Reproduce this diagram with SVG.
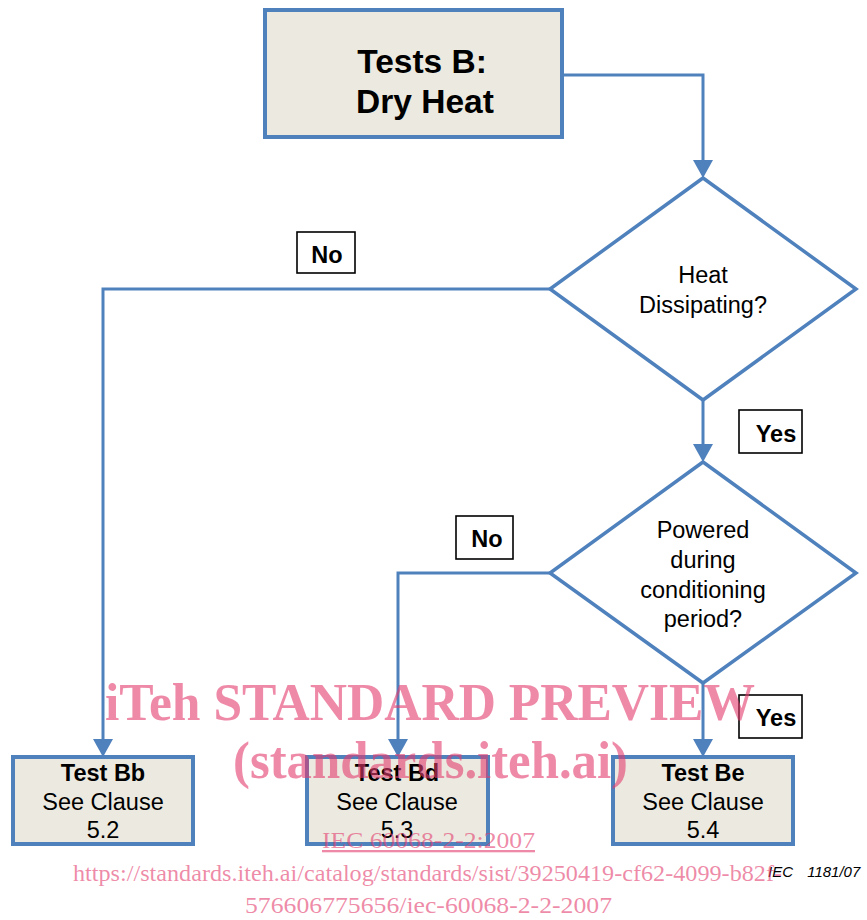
<svg xmlns="http://www.w3.org/2000/svg" width="867" height="920" viewBox="0 0 867 920">
  <style>
    .box { fill: #ECEAE0; stroke: #4F81BD; stroke-width: 4; }
    .dia { fill: #FFFFFF; stroke: #4F81BD; stroke-width: 3.5; stroke-linejoin: miter; }
    .lbl { fill: #FFFFFF; stroke: #000000; stroke-width: 1.6; }
    .wire { fill: none; stroke: #4F81BD; stroke-width: 3; marker-end: url(#arrow); }
    .t { font-family: "Liberation Sans", Arial, sans-serif; fill: #000000; text-anchor: middle; }
    .title { font-size: 33.5px; font-weight: bold; }
    .body { font-size: 23.5px; }
    .bold { font-weight: bold; }
    .wm { font-family: "Liberation Serif", "Times New Roman", serif; fill: #E33C6E; fill-opacity: 0.6; }
  </style>
  <defs>
    <marker id="arrow" viewBox="0 0 18 20" markerWidth="18" markerHeight="20" refX="8" refY="10" orient="auto" markerUnits="userSpaceOnUse">
      <path d="M0,0 L18,10 L0,20 z" fill="#4F81BD"/>
    </marker>
  </defs>

  <rect width="867" height="920" fill="#FFFFFF"/>

  <!-- connectors -->
  <g id="connectors">
    <path class="wire" d="M562,75 H703 V168"/>
    <path class="wire" d="M550,289 H103 V747"/>
    <path class="wire" d="M703,400 V452"/>
    <path class="wire" d="M550,573 H398 V747"/>
    <path class="wire" d="M703,683 V747"/>
  </g>

  <!-- start node -->
  <g id="start">
    <rect class="box" x="265" y="10" width="297" height="127"/>
    <text class="t title" x="422" y="73">Tests B:</text>
    <text class="t title" x="425" y="113">Dry Heat</text>
  </g>

  <!-- decision: heat dissipating -->
  <g id="decision-heat">
    <polygon class="dia" points="703,178 856,289 703,400 550,289"/>
    <text class="t body" x="703" y="283">Heat</text>
    <text class="t body" x="703" y="313">Dissipating?</text>
  </g>

  <!-- decision: powered -->
  <g id="decision-powered">
    <polygon class="dia" points="703,462 856,573 703,683 550,573"/>
    <text class="t body" x="703" y="538">Powered</text>
    <text class="t body" x="703" y="568">during</text>
    <text class="t body" x="703" y="598">conditioning</text>
    <text class="t body" x="703" y="627">period?</text>
  </g>

  <!-- branch labels -->
  <g id="label-no-1">
    <rect class="lbl" x="297" y="232" width="58" height="41"/>
    <text class="t body bold" x="327" y="263">No</text>
  </g>
  <g id="label-yes-1">
    <rect class="lbl" x="739" y="410" width="63" height="43"/>
    <text class="t body bold" x="776" y="442">Yes</text>
  </g>
  <g id="label-no-2">
    <rect class="lbl" x="456" y="516" width="57" height="43"/>
    <text class="t body bold" x="487" y="547">No</text>
  </g>
  <g id="label-yes-2">
    <rect class="lbl" x="739" y="695" width="63" height="43"/>
    <text class="t body bold" x="776" y="726">Yes</text>
  </g>

  <!-- outcome boxes -->
  <g id="test-bb">
    <rect class="box" x="13" y="757" width="180" height="87"/>
    <text class="t body bold" x="103" y="781">Test Bb</text>
    <text class="t body" x="103" y="810">See Clause</text>
    <text class="t body" x="103" y="838">5.2</text>
  </g>
  <g id="test-bd">
    <rect class="box" x="307" y="757" width="181" height="87"/>
    <text class="t body bold" x="397" y="781">Test Bd</text>
    <text class="t body" x="397" y="810">See Clause</text>
    <text class="t body" x="397" y="838">5.3</text>
  </g>
  <g id="test-be">
    <rect class="box" x="613" y="757" width="180" height="87"/>
    <text class="t body bold" x="703" y="781">Test Be</text>
    <text class="t body" x="703" y="810">See Clause</text>
    <text class="t body" x="703" y="838">5.4</text>
  </g>

  <!-- figure number -->
  <text x="768" y="877" font-family="'Liberation Sans', Arial, sans-serif" font-size="15" font-style="italic" fill="#000000">IEC <tspan dx="10">1181/07</tspan></text>

  <!-- overlay stamp -->
  <g id="stamp">
    <text class="wm" x="105" y="720" font-size="52" font-weight="bold" textLength="650" lengthAdjust="spacingAndGlyphs">iTeh STANDARD PREVIEW</text>
    <text class="wm" x="233" y="778" font-size="52" font-weight="bold" textLength="395" lengthAdjust="spacingAndGlyphs">(standards.iteh.ai)</text>
    <text class="wm" x="322" y="848" font-size="23" text-decoration="underline" textLength="213" lengthAdjust="spacingAndGlyphs">IEC 60068-2-2:2007</text>
    <text class="wm" x="73" y="881" font-size="24" textLength="709" lengthAdjust="spacingAndGlyphs">https://standards.iteh.ai/catalog/standards/sist/39250419-cf62-4099-b82f-</text>
    <text class="wm" x="245" y="913" font-size="24" textLength="367" lengthAdjust="spacingAndGlyphs">576606775656/iec-60068-2-2-2007</text>
  </g>
</svg>
